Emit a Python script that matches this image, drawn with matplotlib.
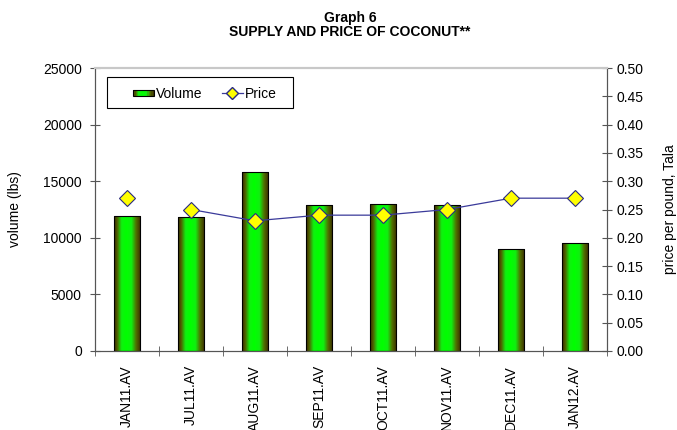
import numpy as np
import matplotlib
matplotlib.use("Agg")
import matplotlib.pyplot as plt
from matplotlib.colors import LinearSegmentedColormap
from matplotlib.patches import Rectangle
from matplotlib.legend_handler import HandlerBase
from matplotlib.lines import Line2D

categories = ["JAN11.AV", "JUL11.AV", "AUG11.AV", "SEP11.AV", "OCT11.AV", "NOV11.AV", "DEC11.AV", "JAN12.AV"]
volume = [11900, 11800, 15800, 12900, 13000, 12900, 9000, 9500]
price = [0.27, 0.25, 0.23, 0.24, 0.24, 0.25, 0.27, 0.27]

plt.rcParams['font.family'] = ['Liberation Sans', 'DejaVu Sans']

fig = plt.figure(figsize=(6.77, 4.30), dpi=100)
ax = fig.add_axes([95/677, 1-351/430, 512/677, 283/430])
ax2 = ax.twinx()

cmap = LinearSegmentedColormap.from_list(
    "cyl", [(0, "#3a2800"), (0.12, "#506000"), (0.28, "#10f010"), (0.45, "#00ff00"),
            (0.65, "#10f010"), (0.82, "#507000"), (1, "#3a2800")])
x = np.arange(len(categories))
bw = 0.41
bars = ax.bar(x, volume, width=bw, color="none", edgecolor="black", linewidth=0.8, zorder=3)
grad = np.linspace(0, 1, 256).reshape(1, -1)
for b in bars:
    im = ax.imshow(grad, cmap=cmap, aspect="auto",
                   extent=[b.get_x(), b.get_x()+b.get_width(), 0, b.get_height()], zorder=2)
    im.set_clip_path(b)

ax.set_xlim(-0.5, len(categories)-0.5)
ax.set_ylim(0, 25000)
ax.set_yticks(np.arange(0, 25001, 5000))
ax.set_xticks(x)
ax.set_xticklabels(categories, rotation=90, fontsize=10)
ax.set_xticks(np.arange(-0.5, len(categories), 1), minor=True)
ax.tick_params(axis='x', which='major', length=0, pad=10)
ax.tick_params(axis='x', which='minor', direction='inout', length=7, color="#555555")
ax.tick_params(axis='y', direction='inout', length=7, labelsize=10, color="#555555", pad=6)

ax2.set_ylim(0, 0.5)
ax2.set_yticks(np.arange(0, 0.501, 0.05))
ax2.set_yticklabels([f"{v:.2f}" for v in np.arange(0, 0.501, 0.05)])
ax2.tick_params(axis='y', direction='inout', length=7, labelsize=10, color="#555555")

ax2.plot(x[1:], price[1:], color="#3a3a9a", linewidth=0.9, zorder=4)
ax2.plot(x, price, linestyle="none", marker="D", markersize=8, markerfacecolor="#ffff00",
         markeredgecolor="#2a2a80", markeredgewidth=0.8, zorder=5)

for a in (ax, ax2):
    a.spines['top'].set_color("#c8c8c8")
    a.spines['left'].set_color("#555555")
    a.spines['right'].set_color("#555555")
    a.spines['bottom'].set_color("#555555")
    a.spines['top'].set_linewidth(1.5)

ax.set_ylabel("volume (lbs)", fontsize=10)
ax.yaxis.set_label_coords(-(95-22)/512, 0.5)
ax2.set_ylabel("price per pound, Tala", fontsize=10)
ax2.yaxis.set_label_coords((663-95)/512, 0.5)

fig.text(350/677, 1-25/430, "Graph 6\nSUPPLY AND PRICE OF COCONUT**", ha="center", va="center",
         fontsize=10, fontweight="bold", family=['Liberation Sans Narrow', 'Liberation Sans'], linespacing=1.05)

class GradHandler(HandlerBase):
    def create_artists(self, legend, orig, xd, yd, width, height, fontsize, trans):
        arts = []
        n = 16
        w = width / n
        for i in range(n):
            c = cmap((i + 0.5) / n)
            arts.append(Rectangle((xd + i*w, yd + height*0.2), w, height*0.6, facecolor=c,
                                  edgecolor="none", transform=trans))
        arts.append(Rectangle((xd, yd + height*0.2), width, height*0.6, facecolor="none",
                              edgecolor="black", linewidth=0.8, transform=trans))
        return arts

# legend frame
frame = Rectangle((107/677, 1-108/430), (293-107)/677, (108-77)/430, transform=fig.transFigure,
                  facecolor="white", edgecolor="black", linewidth=0.8, zorder=6)
ax2.add_patch(frame)
frame.set_clip_on(False)

h_vol = Rectangle((0, 0), 1, 1)
h_pr = Line2D([], [], color="#3a3a9a", linewidth=0.9, marker="D", markersize=6,
              markerfacecolor="#ffff00", markeredgecolor="#2a2a80")
leg = ax2.legend([h_vol, h_pr], ["Volume", "Price"], handler_map={Rectangle: GradHandler()},
                 loc="center left", bbox_to_anchor=((133-95)/512, (351-93.5)/283), ncol=2, frameon=False,
                 fontsize=10, handlelength=1.5, handletextpad=0.15,
                 columnspacing=1.4, borderpad=0, borderaxespad=0)
leg.set_zorder(7)

fig.savefig("out.png", dpi=100)
